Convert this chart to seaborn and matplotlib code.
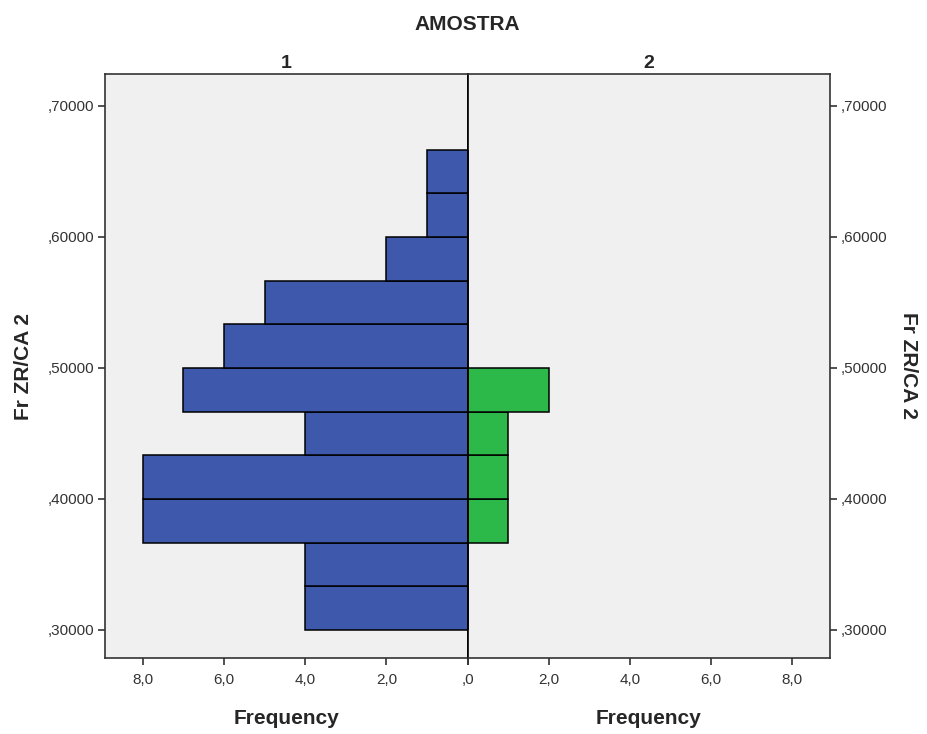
import numpy as np
import seaborn as sns
import matplotlib
matplotlib.use("Agg")
from matplotlib import pyplot as plt
from matplotlib.ticker import FuncFormatter

# Histogram bins of Fr ZR/CA 2 (width 1/30)
bin_edges = [0.30, 0.3333, 0.3667, 0.40, 0.4333, 0.4667, 0.50,
             0.5333, 0.5667, 0.60, 0.6333, 0.6667]
bin_centers = [0.3167, 0.35, 0.3833, 0.4167, 0.45, 0.4833,
               0.5167, 0.55, 0.5833, 0.6167, 0.65]

# Frequencies per bin for AMOSTRA 1 and 2
freq_1 = [4, 4, 8, 8, 4, 7, 6, 5, 2, 1, 1]
freq_2 = [0, 0, 1, 1, 1, 2, 0, 0, 0, 0, 0]

groups = ["1", "2"]
x_ticks = [0, 2, 4, 6, 8]
y_ticks = [0.3, 0.4, 0.5, 0.6, 0.7]

sns.set_style("white")
plt.rcParams["font.family"] = ["Liberation Sans", "DejaVu Sans"]

fig = plt.figure(figsize=(9.27, 7.34), dpi=100)
left, right, bottom, top = 105 / 927, 830 / 927, 1 - 658 / 734, 1 - 74 / 734
half = (right - left) / 2
ax1 = fig.add_axes([left, bottom, half, top - bottom])
ax2 = fig.add_axes([left + half, bottom, half, top - bottom], sharey=ax1)

bg = "#f0f0f0"
colors = ["#3e58ac", "#2db84a"]


def comma_fmt(decimals, hide_zero=False):
    def f(v, pos):
        if hide_zero and abs(v) < 1e-9:
            return ""
        s = f"{v:.{decimals}f}".replace(".", ",")
        if s.startswith("0,"):
            s = s[1:]
        return s
    return FuncFormatter(f)


for ax, freq, color, name in zip([ax1, ax2], [freq_1, freq_2], colors, groups):
    ax.set_facecolor(bg)
    sns.histplot(y=bin_centers, weights=freq, bins=bin_edges, ax=ax,
                 color=color, alpha=1, edgecolor="black", linewidth=1.1)
    ax.set_xlim(0, 8.93)
    ax.set_xticks(x_ticks)
    ax.set_xlabel("Frequency", fontsize=15, fontweight="bold", labelpad=16)
    ax.set_title(name, fontsize=14, fontweight="bold", pad=4)
    ax.tick_params(axis="both", direction="out", length=5, width=1.2,
                   labelsize=11, colors="#333333", labelcolor="#333333", pad=6)
    for sp in ax.spines.values():
        sp.set_color("#333333")
        sp.set_linewidth(1.2)

ax1.xaxis.set_major_formatter(comma_fmt(1))
ax2.xaxis.set_major_formatter(comma_fmt(1, hide_zero=True))

ax1.invert_xaxis()
ax1.set_ylim(0.2786, 0.7244)
ax1.set_yticks(y_ticks)
ax1.yaxis.set_major_formatter(comma_fmt(5))
ax1.tick_params(axis="y", left=True, right=False, pad=3)
ax1.tick_params(axis="x", bottom=True)
ax1.spines["right"].set_color("black")
ax1.set_ylabel("Fr ZR/CA 2", fontsize=15, fontweight="bold", labelpad=10)

ax2.spines["left"].set_color("black")
ax2.yaxis.tick_right()
ax2.yaxis.set_label_position("right")
ax2.tick_params(axis="y", left=False, right=True, labelleft=False, labelright=True, pad=3)
ax2.tick_params(axis="x", bottom=True)
ax2.set_ylabel("Fr ZR/CA 2", fontsize=15, fontweight="bold", rotation=-90, labelpad=22)

fig.text((left + right) / 2, 1 - 24 / 734, "AMOSTRA", ha="center", va="center",
         fontsize=15, fontweight="bold")

fig.savefig("out.png", dpi=100, facecolor="white")
